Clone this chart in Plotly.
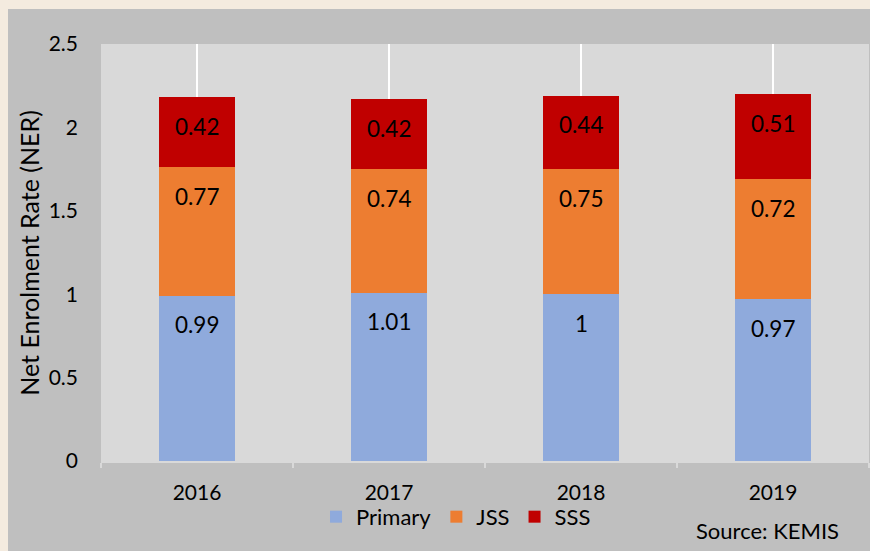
import plotly.graph_objects as go

years = ["2016", "2017", "2018", "2019"]
primary = [0.99, 1.01, 1.00, 0.97]
jss = [0.77, 0.74, 0.75, 0.72]
sss = [0.42, 0.42, 0.44, 0.51]
series_names = ["Primary", "JSS", "SSS"]
colors = ["#8FAADC", "#ED7D31", "#C00000"]
y_title = "Net Enrolment Rate (NER)"
source_text = "Source: KEMIS"

FONT = "Lato, 'Open Sans', sans-serif"
fig = go.Figure()
series = [primary, jss, sss]
for name, vals, col in zip(series_names, series, colors):
    fig.add_trace(go.Bar(x=years, y=vals, name=name, marker_color=col,
                         marker_line_width=0, width=0.4))

# value labels near the top of each segment (x given as category index)
cum = [0.0] * len(years)
for vals in series:
    for i, v in enumerate(vals):
        cum[i] += v
        fig.add_annotation(x=i, y=cum[i], xref="x", yref="y",
                           text=f"{v:g}", showarrow=False, yshift=-29,
                           font=dict(family=FONT, size=22.5, color="#000000"))

# vertical gridlines at category centres
for i, yr in enumerate(years):
    fig.add_shape(type="line", xref="x", yref="paper", x0=i, x1=i, y0=0, y1=1,
                  line=dict(color="#FFFFFF", width=2), layer="below")

# beige outer strips (top and left)
beige = "#F4EBDF"
fig.add_shape(type="rect", xref="paper", yref="paper", x0=-0.14, x1=-0.1211,
              y0=-0.25, y1=1.12, fillcolor=beige, line_width=0, layer="below")
fig.add_shape(type="rect", xref="paper", yref="paper", x0=-0.14, x1=1.01,
              y0=1.0839, y1=1.12, fillcolor=beige, line_width=0, layer="below")

fig.add_annotation(text=source_text, xref="paper", yref="paper", x=0.9635, y=-0.1655,
                   xanchor="right", yanchor="middle", showarrow=False,
                   font=dict(family=FONT, size=22, color="#000000"))
fig.add_annotation(text=y_title, xref="paper", yref="paper", x=-0.0948, y=0.5,
                   xanchor="center", yanchor="middle", textangle=-90, showarrow=False,
                   font=dict(family=FONT, size=25, color="#000000"))

fig.update_layout(
    width=870, height=551,
    barmode="stack",
    paper_bgcolor="#BFBFBF",
    plot_bgcolor="#D9D9D9",
    margin=dict(l=101, r=1, t=44, b=90),
    font=dict(family=FONT, size=21, color="#000000"),
    showlegend=True,
    legend=dict(orientation="h", x=0.28, y=-0.134, xanchor="left", yanchor="middle",
                bgcolor="rgba(0,0,0,0)", font=dict(family=FONT, size=22),
                traceorder="normal", itemwidth=30),
)
fig.update_xaxes(type="category", range=[-0.5, len(years) - 0.5], showgrid=False,
                 tickson="boundaries", ticks="outside",
                 ticklen=5, tickcolor="#D9D9D9", tickwidth=2, showline=True,
                 linecolor="#D9D9D9", linewidth=2, ticklabelstandoff=12,
                 tickfont=dict(family=FONT, size=21))
fig.update_yaxes(range=[0, 2.5], dtick=0.5, showgrid=False, zeroline=False,
                 showline=False, ticklabelstandoff=22,
                 tickfont=dict(family=FONT, size=21))

fig.write_html("out.html", config={"displayModeBar": False},
               post_script="document.body.style.margin='0';"
                           "document.body.style.overflow='hidden';"
                           "document.body.style.background='#F4EBDF';")
